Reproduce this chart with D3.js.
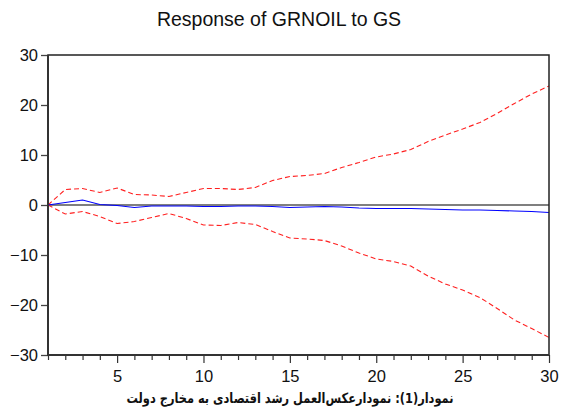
<!DOCTYPE html>
<html><head><meta charset="utf-8">
<script src="https://cdn.jsdelivr.net/npm/d3@7/dist/d3.min.js"></script>
<style>body{margin:0;background:#fff}svg{display:block}</style>
</head><body>
<svg id="c" width="561" height="409"></svg>
<script>
const periods = d3.range(1, 31);
const response = [0, 0.5, 1.0, 0.1, -0.1, -0.5, -0.2, -0.2, -0.2, -0.3, -0.3, -0.2, -0.2, -0.3, -0.5, -0.4, -0.3, -0.4, -0.6, -0.7, -0.7, -0.7, -0.8, -0.9, -1.0, -1.0, -1.1, -1.2, -1.3, -1.5];
const upper = [0, 3.1, 3.3, 2.5, 3.4, 2.1, 2.0, 1.7, 2.5, 3.3, 3.3, 3.1, 3.5, 4.9, 5.7, 5.9, 6.3, 7.5, 8.5, 9.6, 10.2, 11.1, 12.7, 14.0, 15.2, 16.5, 18.3, 20.3, 22.2, 23.8];
const lower = [0, -1.8, -1.3, -2.3, -3.7, -3.3, -2.5, -1.7, -2.7, -4.0, -4.1, -3.5, -3.9, -5.3, -6.6, -6.8, -7.1, -8.2, -9.6, -10.8, -11.3, -12.2, -14.2, -15.8, -17.0, -18.5, -20.7, -23.0, -24.7, -26.5];
const yTicks = [-30, -20, -10, 0, 10, 20, 30];
const xTickLabels = [5, 10, 15, 20, 25, 30];
const title = "Response of GRNOIL to GS";
const caption = "نمودار(1): نمودارعکس‌العمل رشد اقتصادی به مخارج دولت";

const svg = d3.select("#c");
const L = 48, R = 549, T = 55, B = 355;
const x = d3.scaleLinear().domain([1, 30]).range([L, R]);
const y = d3.scaleLinear().domain([-30, 30]).range([B, T]);

svg.append("text").attr("x", 279).attr("y", 26).attr("text-anchor", "middle")
  .attr("font-family", "Liberation Sans, Arial, sans-serif").attr("font-size", 19.5).attr("fill", "#111").text(title);

// y axis
const yAxis = d3.axisLeft(y).tickValues(yTicks).tickSize(7).tickSizeOuter(0).tickPadding(3);
const gy = svg.append("g").attr("transform", `translate(${L},0)`).call(yAxis);
gy.select(".domain").remove();
gy.selectAll("line").attr("stroke", "#444").attr("stroke-width", 1.3);
gy.selectAll("text").attr("font-family", "Liberation Sans, Arial, sans-serif").attr("font-size", 16.5).attr("fill", "#111");

// x axis
const xAxis = d3.axisBottom(x).tickValues(periods).tickSize(5).tickSizeOuter(0)
  .tickFormat(d => xTickLabels.includes(d) ? d : "").tickPadding(6);
const gx = svg.append("g").attr("transform", `translate(0,${B})`).call(xAxis);
gx.select(".domain").remove();
gx.selectAll("line").attr("stroke", "#333").attr("stroke-width", 1.2)
  .attr("y2", d => xTickLabels.includes(d) ? 8 : 5);
gx.selectAll("text").attr("font-family", "Liberation Sans, Arial, sans-serif").attr("font-size", 16.5).attr("fill", "#111").attr("dy", "0.95em");

// zero line
svg.append("line").attr("x1", L).attr("x2", R).attr("y1", y(0)).attr("y2", y(0))
  .attr("stroke", "#555").attr("stroke-width", 1.3);

const line = d3.line().x((d, i) => x(periods[i])).y(d => y(d));
svg.append("path").attr("d", line(upper)).attr("fill", "none").attr("stroke", "#ff2020")
  .attr("stroke-width", 1.1).attr("stroke-dasharray", "5,3");
svg.append("path").attr("d", line(lower)).attr("fill", "none").attr("stroke", "#ff2020")
  .attr("stroke-width", 1.1).attr("stroke-dasharray", "5,3");
svg.append("path").attr("d", line(response)).attr("fill", "none").attr("stroke", "#0000ff")
  .attr("stroke-width", 1.1);

// frame
svg.append("rect").attr("x", L).attr("y", T).attr("width", R - L).attr("height", B - T)
  .attr("fill", "none").attr("stroke", "#222").attr("stroke-width", 1.5);
svg.append("line").attr("x1", L).attr("x2", L).attr("y1", T).attr("y2", B).attr("stroke", "#333").attr("stroke-width", 2);
svg.append("line").attr("x1", L).attr("x2", R).attr("y1", B).attr("y2", B).attr("stroke", "#333").attr("stroke-width", 2);

svg.append("text").attr("x", 290).attr("y", 403).attr("text-anchor", "middle")
  .attr("direction", "rtl").attr("font-family", "DejaVu Sans, sans-serif").attr("font-weight", "bold")
  .attr("font-size", 14).attr("textLength", 327).attr("lengthAdjust", "spacingAndGlyphs")
  .attr("fill", "#111").text(caption);
</script>
</body></html>
